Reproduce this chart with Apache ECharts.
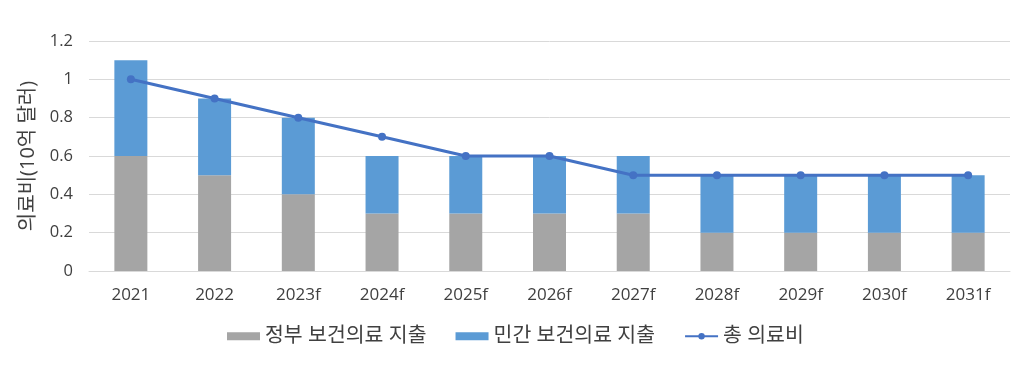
<!DOCTYPE html>
<html><head><meta charset="utf-8">
<script src="https://cdn.jsdelivr.net/npm/echarts@6/dist/echarts.min.js"></script>
<style>html,body{margin:0;padding:0;background:#fff}#c{width:1034px;height:392px}</style>
</head><body><div id="c"></div>
<script>
const categories = ['2021','2022','2023f','2024f','2025f','2026f','2027f','2028f','2029f','2030f','2031f'];
const govSpending = [0.6,0.5,0.4,0.3,0.3,0.3,0.3,0.2,0.2,0.2,0.2];
const privateSpending = [0.5,0.4,0.4,0.3,0.3,0.3,0.3,0.3,0.3,0.3,0.3];
const totalSpending = [1.0,0.9,0.8,0.7,0.6,0.6,0.5,0.5,0.5,0.5,0.5];
const yTicks = [0,0.2,0.4,0.6,0.8,1,1.2];

const font = "'Open Sans','Noto Sans CJK KR',sans-serif";
const chart = echarts.init(document.getElementById('c'));
chart.setOption({
  animation:false,
  textStyle:{fontFamily:font},
  grid:{left:89,right:24,top:41,bottom:121,containLabel:false},
  legend:{
    top:321, left:222, itemWidth:33, itemHeight:8, itemGap:29,
    textStyle:{fontSize:20.5,color:'#404040',fontFamily:font},
    data:[{name:'정부 보건의료 지출',icon:'rect'},{name:'민간 보건의료 지출',icon:'rect'},{name:'총 의료비'}]
  },
  xAxis:{
    type:'category', data:categories,
    axisLine:{lineStyle:{color:'#D9D9D9'}},
    axisTick:{show:false},
    axisLabel:{fontSize:17,color:'#404040',margin:16,fontFamily:font}
  },
  yAxis:{
    type:'value', min:0, max:1.2, interval:0.2,
    name:'의료비(10억 달러)', nameLocation:'middle', nameGap:51, nameRotate:90,
    nameTextStyle:{fontSize:20,color:'#404040',fontFamily:font},
    axisLabel:{fontSize:16.5,color:'#404040',margin:16,fontFamily:font,
      formatter:v=>{const t=yTicks.find(x=>Math.abs(x-v)<1e-9);return String(t!==undefined?t:v);}},
    splitLine:{lineStyle:{color:'#D9D9D9',width:1}},
    axisLine:{show:false}, axisTick:{show:false}
  },
  series:[
    {name:'정부 보건의료 지출',type:'bar',stack:'s',data:govSpending,barWidth:33,itemStyle:{color:'#A5A5A5'}},
    {name:'민간 보건의료 지출',type:'bar',stack:'s',data:privateSpending,barWidth:33,itemStyle:{color:'#5B9BD5'}},
    {name:'총 의료비',type:'line',data:totalSpending,symbol:'circle',symbolSize:8,
      lineStyle:{color:'#4472C4',width:3},itemStyle:{color:'#4472C4'}}
  ]
});
</script></body></html>
